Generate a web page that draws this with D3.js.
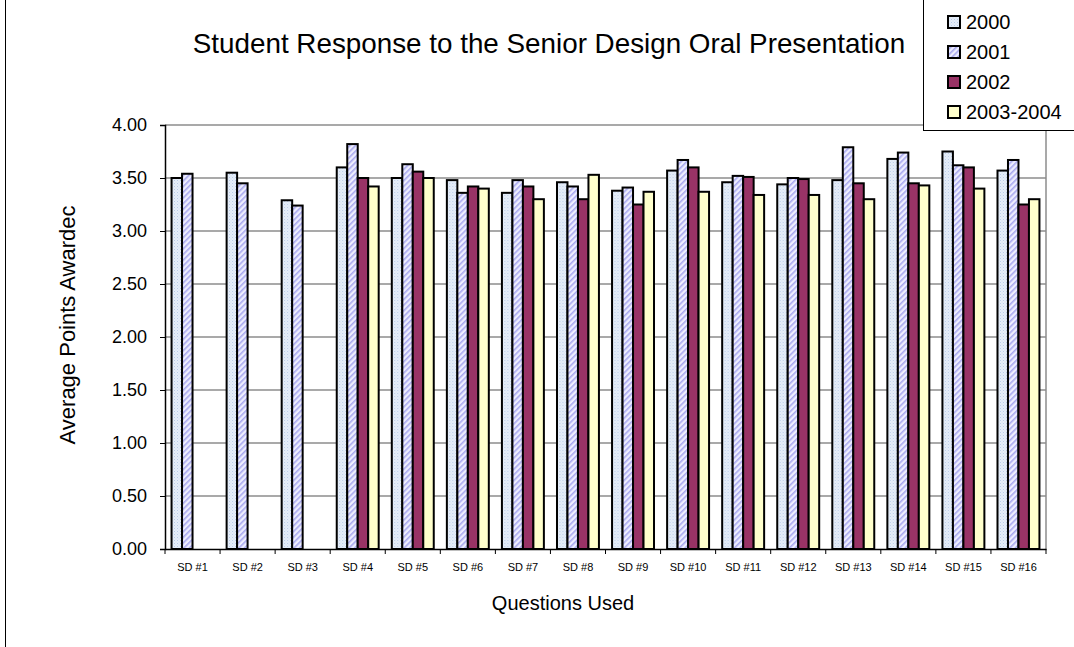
<!DOCTYPE html>
<html>
<head>
<meta charset="utf-8">
<script src="https://cdn.jsdelivr.net/npm/d3@7"></script>
<style>
  html, body { margin: 0; padding: 0; background: #fff; }
  svg { display: block; font-family: "Liberation Sans", Arial, sans-serif; }
</style>
</head>
<body>
<svg id="chart" width="1074" height="647"></svg>
<script>
// Question labels along the x axis
const questions = ["SD #1", "SD #2", "SD #3", "SD #4", "SD #5", "SD #6", "SD #7", "SD #8",
                   "SD #9", "SD #10", "SD #11", "SD #12", "SD #13", "SD #14", "SD #15", "SD #16"];

// Average points awarded per year (null = question not asked that year)
const years = ["2000", "2001", "2002", "2003-2004"];
const y2000 = [3.50, 3.55, 3.29, 3.60, 3.50, 3.48, 3.36, 3.46, 3.38, 3.57, 3.46, 3.44, 3.48, 3.68, 3.75, 3.57];
const y2001 = [3.54, 3.45, 3.24, 3.82, 3.63, 3.36, 3.48, 3.42, 3.41, 3.67, 3.52, 3.50, 3.79, 3.74, 3.62, 3.67];
const y2002 = [null, null, null, 3.50, 3.56, 3.42, 3.42, 3.30, 3.25, 3.60, 3.51, 3.49, 3.45, 3.45, 3.60, 3.25];
const y2003 = [null, null, null, 3.42, 3.50, 3.40, 3.30, 3.53, 3.37, 3.37, 3.34, 3.34, 3.30, 3.43, 3.40, 3.30];

const yTicks = [0, 0.5, 1, 1.5, 2, 2.5, 3, 3.5, 4];

const seriesValues = [y2000, y2001, y2002, y2003];
const fills = ["url(#pat2000)", "url(#pat2001)", "#993366", "#ffffcc"];

const svg = d3.select("#chart");

// Fill patterns for the first two series
const defs = svg.append("defs");
const p0 = defs.append("pattern").attr("id", "pat2000")
  .attr("patternUnits", "userSpaceOnUse").attr("width", 3).attr("height", 3);
p0.append("rect").attr("width", 3).attr("height", 3).attr("fill", "#e6eef9");
p0.append("rect").attr("x", 0).attr("y", 0).attr("width", 1).attr("height", 1).attr("fill", "#b9cbe8");
p0.append("rect").attr("x", 1.5).attr("y", 1.5).attr("width", 1).attr("height", 1).attr("fill", "#cfdcf0");

const p1 = defs.append("pattern").attr("id", "pat2001")
  .attr("patternUnits", "userSpaceOnUse").attr("width", 4).attr("height", 4)
  .attr("patternTransform", "rotate(45)");
p1.append("rect").attr("width", 4).attr("height", 4).attr("fill", "#eeeeff");
p1.append("rect").attr("width", 1.6).attr("height", 4).attr("fill", "#a8a8ee");

// Plot area
const plot = { left: 165, right: 1046, top: 125, bottom: 549 };

const x = d3.scaleBand().domain(questions).range([plot.left, plot.right]).padding(0);
const y = d3.scaleLinear().domain([0, 4]).range([plot.bottom, plot.top]);

const barW = x.bandwidth() / (years.length + 1.25);
const xs = d3.scaleBand().domain(years)
  .range([barW * 0.625, barW * 0.625 + barW * years.length]).padding(0);

// Chart area edge on the left
svg.append("line").attr("x1", 5.5).attr("x2", 5.5).attr("y1", 0).attr("y2", 647)
  .attr("stroke", "#000").attr("stroke-width", 1);

// Gridlines
svg.append("g").selectAll("line").data(yTicks.filter(d => d > 0)).join("line")
  .attr("x1", plot.left).attr("x2", plot.right)
  .attr("y1", d => y(d)).attr("y2", d => y(d))
  .attr("stroke", "#8c8c8c").attr("stroke-width", 1.5);

// Right border of the plot area
svg.append("line").attr("x1", plot.right).attr("x2", plot.right)
  .attr("y1", plot.top).attr("y2", plot.bottom)
  .attr("stroke", "#8c8c8c").attr("stroke-width", 1.5);

// Bars
const groups = svg.append("g").selectAll("g").data(questions).join("g")
  .attr("transform", d => `translate(${x(d)},0)`);

groups.selectAll("rect")
  .data((q, i) => years.map((yr, s) => ({ yr, s, v: seriesValues[s][i] })).filter(d => d.v != null))
  .join("rect")
  .attr("x", d => xs(d.yr))
  .attr("width", xs.bandwidth())
  .attr("y", d => y(d.v))
  .attr("height", d => y(0) - y(d.v))
  .attr("fill", d => fills[d.s])
  .attr("stroke", "#000")
  .attr("stroke-width", 2);

// Y axis
const yAxis = svg.append("g").attr("transform", `translate(${plot.left},0)`)
  .call(d3.axisLeft(y).tickValues(yTicks).tickFormat(d3.format(".2f")).tickSize(5).tickPadding(13));
yAxis.select(".domain").attr("stroke", "#000").attr("stroke-width", 1.5);
yAxis.selectAll(".tick line").attr("stroke", "#000");
yAxis.selectAll("text").attr("font-size", 18).attr("fill", "#000")
  .style("font-family", "'Liberation Sans', Arial, sans-serif");

// X axis
const xAxis = svg.append("g").attr("transform", `translate(0,${plot.bottom})`)
  .call(d3.axisBottom(x).tickSize(0).tickPadding(14));
xAxis.select(".domain").attr("stroke", "#000").attr("stroke-width", 1.5);
xAxis.selectAll("text").attr("font-size", 11).attr("fill", "#000")
  .style("font-family", "'Liberation Sans', Arial, sans-serif");
// category boundary ticks
svg.append("g").selectAll("line").data(questions.concat(["end"])).join("line")
  .attr("x1", d => d === "end" ? plot.right : x(d))
  .attr("x2", d => d === "end" ? plot.right : x(d))
  .attr("y1", plot.bottom).attr("y2", plot.bottom + 5)
  .attr("stroke", "#000");

// Titles
svg.append("text").attr("x", 549).attr("y", 53).attr("text-anchor", "middle")
  .attr("font-size", 27.8).text("Student Response to the Senior Design Oral Presentation");

svg.append("text").attr("x", 563).attr("y", 610).attr("text-anchor", "middle")
  .attr("font-size", 20).text("Questions Used");

svg.append("text").attr("transform", "translate(75,325) rotate(-90)")
  .attr("text-anchor", "middle").attr("font-size", 22).text("Average Points Awardec");

// Legend
const lg = svg.append("g");
lg.append("rect").attr("x", 923.5).attr("y", -1).attr("width", 160).attr("height", 131.5)
  .attr("fill", "#fff").attr("stroke", "#000").attr("stroke-width", 1);
const items = lg.selectAll("g.item").data(years).join("g").attr("class", "item")
  .attr("transform", (d, i) => `translate(0,${22 + i * 30})`);
items.append("rect").attr("x", 948).attr("y", -6).attr("width", 12).attr("height", 12)
  .attr("fill", (d, i) => fills[i]).attr("stroke", "#000").attr("stroke-width", 2);
items.append("text").attr("x", 966).attr("y", 7).attr("font-size", 20).text(d => d);
</script>
</body>
</html>
